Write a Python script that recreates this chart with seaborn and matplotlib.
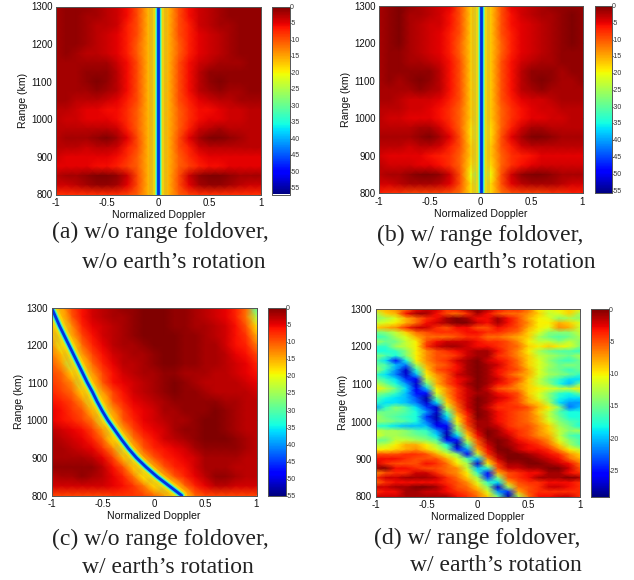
import numpy as np
import matplotlib
matplotlib.use('Agg')
import matplotlib.pyplot as plt
import seaborn as sns

sns.set_theme(style="white")
plt.rcParams['font.family'] = ['Liberation Sans', 'DejaVu Sans']
plt.rcParams['axes.unicode_minus'] = False

W, H = 634, 580

doppler_ticks = [-1, -0.5, 0, 0.5, 1]
range_ticks = [800, 900, 1000, 1100, 1200, 1300]

# dB below peak, top row = 1300 km, columns -1 .. 1 in steps of 0.1
panel_a_db = [
    [2, 1, 1, 1, 2, 3, 4, 6, 10, 16, 26, 16, 10, 6, 4, 3, 2, 1, 1, 1, 1],
    [2, 1, 1, 2, 2, 3, 4, 6, 10, 16, 26, 16, 10, 6, 4, 3, 2, 1, 1, 1, 1],
    [2, 1, 1, 2, 3, 3, 4, 7, 10, 16, 26, 16, 10, 7, 4, 3, 2, 2, 1, 1, 1],
    [2, 1, 1, 2, 3, 4, 5, 7, 10, 16, 26, 16, 10, 7, 5, 4, 3, 2, 1, 1, 1],
    [2, 1, 1, 2, 3, 4, 5, 7, 11, 16, 26, 16, 11, 7, 5, 4, 3, 2, 1, 1, 1],
    [2, 1, 2, 3, 3, 4, 5, 7, 11, 16, 26, 16, 11, 7, 5, 4, 3, 2, 1, 1, 1],
    [2, 2, 2, 2, 2, 2, 4, 6, 10, 16, 26, 16, 10, 6, 4, 3, 2, 2, 2, 1, 1],
    [2, 2, 2, 1, 1, 1, 3, 6, 10, 16, 26, 16, 10, 6, 3, 1, 1, 1, 1, 1, 1],
    [2, 2, 2, 1, 0, 1, 3, 6, 10, 16, 26, 16, 10, 6, 3, 1, 0, 1, 1, 1, 1],
    [2, 2, 2, 2, 1, 2, 3, 6, 10, 16, 26, 16, 10, 6, 3, 2, 1, 2, 2, 1, 1],
    [2, 2, 3, 3, 3, 4, 5, 7, 10, 16, 26, 16, 10, 7, 5, 4, 3, 3, 2, 2, 2],
    [3, 3, 4, 5, 5, 6, 6, 8, 11, 16, 26, 16, 11, 8, 6, 6, 5, 4, 4, 3, 3],
    [3, 4, 4, 5, 5, 5, 6, 8, 11, 16, 26, 16, 11, 8, 6, 5, 5, 4, 4, 3, 3],
    [3, 3, 3, 3, 3, 3, 4, 7, 11, 16, 26, 16, 11, 7, 4, 3, 2, 3, 3, 3, 3],
    [3, 2, 2, 2, 1, 0, 2, 5, 10, 16, 26, 16, 10, 5, 2, 0, 0, 1, 2, 3, 3],
    [3, 3, 3, 4, 3, 3, 4, 7, 10, 16, 26, 16, 10, 7, 4, 3, 3, 3, 3, 3, 3],
    [4, 5, 5, 5, 5, 5, 6, 8, 11, 16, 26, 16, 11, 8, 6, 5, 5, 5, 5, 5, 5],
    [5, 5, 5, 5, 6, 6, 7, 9, 11, 16, 26, 16, 11, 9, 7, 6, 6, 5, 5, 5, 5],
    [3, 2, 2, 1, 0, 0, 1, 4, 10, 16, 26, 16, 10, 4, 1, 0, 0, 1, 2, 2, 2],
    [4, 4, 3, 2, 1, 1, 2, 5, 10, 16, 26, 16, 10, 5, 2, 1, 1, 2, 3, 4, 4],
    [8, 8, 8, 8, 8, 8, 8, 9, 11, 16, 26, 16, 11, 9, 8, 8, 8, 8, 8, 8, 8],
]

panel_b_db = [
    [2, 1, 0, 1, 2, 3, 4, 5, 10, 17, 27, 17, 10, 5, 4, 3, 2, 1, 1, 1, 1],
    [2, 1, 0, 2, 2, 3, 4, 6, 10, 17, 27, 17, 10, 6, 4, 3, 2, 2, 1, 0, 1],
    [2, 1, 0, 2, 3, 4, 4, 6, 10, 17, 27, 17, 10, 6, 5, 4, 3, 2, 1, 0, 1],
    [2, 1, 0, 2, 3, 4, 5, 7, 10, 17, 27, 17, 10, 7, 5, 4, 3, 2, 1, 0, 1],
    [2, 1, 0, 2, 3, 4, 5, 7, 11, 17, 27, 17, 11, 7, 5, 4, 3, 2, 1, 0, 1],
    [2, 1, 1, 2, 3, 4, 5, 7, 11, 17, 27, 17, 11, 7, 5, 4, 3, 2, 1, 1, 1],
    [2, 1, 1, 2, 2, 3, 4, 6, 10, 17, 27, 17, 10, 6, 4, 3, 2, 2, 1, 1, 1],
    [2, 1, 1, 1, 1, 1, 3, 6, 10, 17, 27, 17, 10, 6, 3, 1, 1, 1, 2, 1, 1],
    [2, 1, 2, 1, 0, 1, 3, 6, 10, 17, 27, 17, 10, 6, 3, 1, 0, 1, 2, 2, 1],
    [2, 2, 2, 2, 1, 2, 3, 6, 10, 17, 27, 17, 10, 6, 3, 2, 1, 2, 2, 2, 2],
    [2, 2, 3, 4, 4, 4, 5, 7, 10, 17, 27, 17, 10, 7, 5, 4, 4, 3, 2, 2, 2],
    [3, 3, 3, 4, 4, 5, 6, 8, 11, 17, 27, 17, 11, 8, 6, 5, 4, 4, 3, 3, 3],
    [3, 4, 4, 5, 5, 5, 6, 8, 11, 17, 28, 17, 11, 8, 6, 5, 5, 4, 4, 3, 3],
    [3, 3, 3, 3, 2, 2, 4, 7, 11, 18, 29, 18, 11, 7, 4, 2, 2, 3, 3, 3, 3],
    [2, 2, 2, 2, 1, 0, 2, 5, 10, 18, 29, 18, 10, 5, 2, 0, 0, 1, 2, 2, 2],
    [3, 3, 3, 4, 3, 3, 4, 7, 10, 17, 27, 17, 10, 7, 4, 3, 3, 3, 3, 3, 3],
    [4, 5, 5, 5, 5, 6, 7, 8, 11, 17, 27, 17, 11, 8, 7, 6, 5, 5, 5, 5, 5],
    [3, 4, 4, 4, 5, 5, 6, 8, 11, 18, 28, 18, 11, 8, 6, 5, 4, 4, 4, 4, 4],
    [3, 2, 2, 1, 0, 0, 1, 4, 10, 20, 34, 20, 10, 4, 1, 0, 0, 1, 2, 2, 2],
    [4, 4, 3, 2, 2, 2, 3, 5, 10, 18, 29, 18, 10, 5, 3, 2, 2, 2, 3, 4, 4],
    [7, 8, 8, 9, 9, 9, 9, 10, 12, 18, 27, 18, 12, 10, 9, 9, 9, 8, 8, 7, 7],
]

panel_c_db = [
    [26, 15, 9, 6, 4, 3, 2, 1, 1, 0, 0, 0, 1, 1, 2, 3, 4, 5, 7, 11, 30],
    [24, 17, 10, 6, 4, 3, 2, 2, 1, 0, 0, 0, 1, 1, 2, 3, 4, 5, 7, 12, 24],
    [18, 22, 13, 7, 5, 4, 3, 2, 1, 0, 0, 0, 1, 1, 2, 2, 3, 4, 6, 10, 18],
    [15, 24, 15, 9, 6, 4, 3, 2, 1, 0, 0, 0, 0, 1, 1, 2, 3, 4, 6, 8, 15],
    [13, 21, 20, 11, 7, 5, 3, 2, 2, 1, 0, 0, 0, 1, 1, 2, 2, 4, 6, 7, 12],
    [12, 16, 24, 14, 9, 6, 4, 3, 2, 2, 1, 0, 0, 1, 1, 2, 2, 3, 5, 6, 9],
    [10, 14, 24, 18, 11, 7, 5, 3, 3, 2, 1, 0, 0, 1, 1, 2, 2, 3, 4, 5, 7],
    [9, 11, 17, 24, 14, 9, 6, 4, 3, 2, 2, 1, 1, 2, 2, 2, 3, 3, 4, 5, 6],
    [8, 10, 13, 23, 17, 10, 6, 5, 4, 3, 2, 1, 0, 1, 2, 3, 3, 3, 3, 4, 5],
    [7, 9, 11, 17, 24, 14, 9, 6, 4, 3, 2, 1, 0, 1, 1, 2, 3, 3, 3, 3, 4],
    [6, 7, 9, 13, 22, 18, 10, 7, 5, 4, 3, 2, 1, 1, 1, 1, 1, 2, 2, 3, 3],
    [5, 6, 8, 10, 16, 24, 14, 9, 6, 5, 4, 2, 2, 1, 1, 1, 0, 1, 2, 3, 3],
    [5, 6, 7, 9, 12, 22, 17, 10, 7, 5, 4, 3, 2, 2, 1, 0, 0, 1, 2, 3, 3],
    [3, 4, 5, 6, 9, 14, 24, 14, 9, 6, 5, 4, 2, 1, 1, 0, 0, 1, 2, 3, 3],
    [2, 3, 4, 5, 7, 11, 19, 22, 12, 8, 6, 4, 3, 2, 1, 0, 0, 0, 1, 2, 3],
    [2, 2, 3, 4, 5, 8, 13, 24, 16, 10, 7, 6, 5, 4, 2, 1, 1, 1, 1, 2, 3],
    [2, 2, 2, 2, 3, 5, 9, 16, 24, 14, 10, 7, 6, 5, 4, 2, 2, 2, 2, 3, 3],
    [1, 1, 1, 1, 1, 3, 6, 10, 17, 24, 15, 10, 7, 6, 4, 2, 2, 2, 3, 3, 3],
    [3, 2, 2, 1, 2, 3, 5, 7, 12, 19, 24, 15, 10, 7, 5, 3, 1, 1, 2, 3, 3],
    [4, 4, 4, 4, 4, 4, 5, 6, 8, 12, 18, 24, 18, 11, 7, 5, 3, 3, 4, 4, 4],
    [9, 9, 9, 9, 9, 9, 8, 8, 8, 9, 11, 14, 21, 18, 11, 9, 9, 9, 9, 9, 9],
]

panel_d_db = [
    [9, 8, 7, 6, 3, 2, 2, 4, 3, 1, 0, 1, 3, 4, 4, 6, 10, 11, 10, 9, 10],
    [13, 9, 8, 3, 1, 1, 3, 5, 6, 4, 1, 3, 5, 6, 6, 7, 9, 12, 11, 9, 13],
    [14, 13, 11, 8, 6, 4, 3, 1, 0, 1, 3, 3, 1, 3, 5, 8, 10, 11, 14, 13, 14],
    [12, 11, 10, 8, 6, 3, 2, 1, 0, 0, 2, 3, 1, 3, 5, 7, 10, 10, 8, 9, 11],
    [9, 8, 7, 4, 2, 2, 4, 5, 3, 3, 5, 5, 3, 4, 5, 8, 10, 11, 7, 8, 12],
    [15, 14, 12, 9, 6, 5, 4, 4, 4, 3, 3, 4, 4, 5, 6, 9, 11, 14, 14, 14, 12],
    [17, 16, 13, 11, 8, 6, 6, 6, 5, 4, 4, 6, 6, 7, 8, 9, 13, 15, 16, 15, 13],
    [13, 15, 15, 12, 10, 5, 3, 2, 2, 2, 3, 4, 4, 5, 7, 10, 12, 12, 14, 12, 14],
    [17, 17, 13, 12, 10, 4, 2, 1, 1, 2, 3, 3, 4, 5, 6, 9, 10, 9, 10, 11, 14],
    [18, 18, 17, 14, 10, 7, 5, 4, 3, 2, 1, 1, 3, 5, 7, 10, 13, 15, 16, 16, 17],
    [14, 16, 18, 14, 10, 7, 5, 5, 4, 2, 1, 1, 4, 5, 7, 9, 12, 13, 14, 15, 13],
    [16, 19, 25, 18, 10, 7, 5, 4, 2, 1, 0, 2, 3, 4, 6, 9, 11, 14, 16, 17, 15],
    [15, 16, 20, 22, 13, 8, 6, 5, 3, 1, 0, 1, 2, 4, 6, 9, 11, 13, 15, 14, 15],
    [13, 17, 21, 27, 17, 9, 5, 4, 3, 1, 0, 1, 3, 4, 5, 8, 11, 14, 15, 17, 15],
    [17, 19, 22, 27, 20, 10, 7, 5, 2, 1, 0, 1, 3, 5, 7, 8, 11, 13, 14, 15, 17],
    [15, 17, 19, 24, 26, 12, 8, 5, 3, 2, 0, 1, 2, 4, 5, 9, 12, 15, 17, 19, 19],
    [12, 15, 18, 21, 27, 15, 8, 5, 3, 1, 0, 1, 3, 4, 7, 9, 12, 14, 18, 20, 15],
    [10, 12, 15, 19, 26, 20, 10, 7, 4, 2, 0, 2, 5, 6, 7, 9, 10, 11, 12, 12, 10],
    [14, 15, 17, 20, 25, 25, 11, 7, 4, 2, 1, 1, 3, 4, 5, 9, 11, 14, 17, 18, 15],
    [16, 18, 19, 20, 23, 28, 15, 8, 4, 2, 0, 1, 2, 3, 5, 8, 11, 14, 18, 19, 19],
    [17, 19, 19, 20, 22, 27, 19, 9, 5, 2, 0, 1, 3, 4, 5, 8, 9, 13, 19, 21, 21],
    [21, 17, 14, 16, 19, 24, 27, 12, 6, 2, 0, 2, 4, 4, 4, 5, 8, 10, 14, 22, 20],
    [15, 15, 15, 16, 18, 21, 27, 16, 7, 3, 0, 1, 3, 4, 5, 6, 9, 12, 16, 18, 18],
    [13, 15, 16, 17, 18, 24, 28, 19, 9, 4, 0, 1, 3, 4, 5, 6, 8, 12, 15, 18, 18],
    [14, 14, 15, 16, 18, 22, 27, 22, 10, 4, 1, 1, 3, 4, 5, 6, 8, 11, 14, 16, 17],
    [17, 18, 19, 20, 20, 20, 26, 26, 13, 5, 1, 1, 2, 4, 5, 5, 7, 9, 13, 15, 18],
    [12, 13, 13, 14, 16, 17, 21, 27, 15, 7, 2, 0, 1, 3, 4, 5, 7, 9, 12, 14, 13],
    [11, 13, 13, 14, 15, 16, 19, 28, 19, 9, 3, 0, 1, 2, 4, 5, 7, 8, 12, 16, 17],
    [15, 15, 12, 12, 13, 14, 16, 26, 25, 12, 5, 1, 0, 1, 3, 4, 5, 7, 11, 14, 16],
    [13, 12, 10, 8, 8, 10, 13, 18, 28, 16, 6, 2, 0, 1, 2, 3, 4, 6, 9, 13, 16],
    [10, 10, 9, 8, 7, 9, 11, 15, 25, 21, 8, 3, 0, 0, 2, 3, 3, 4, 7, 10, 12],
    [5, 5, 5, 4, 4, 5, 8, 11, 14, 26, 12, 4, 1, 0, 0, 1, 2, 3, 4, 7, 9],
    [3, 3, 3, 4, 5, 5, 5, 8, 11, 16, 20, 7, 2, 0, 0, 0, 1, 2, 3, 6, 8],
    [2, 4, 5, 5, 5, 3, 4, 6, 10, 13, 27, 10, 4, 1, 1, 0, 0, 1, 2, 3, 6],
    [1, 0, 3, 3, 4, 5, 5, 6, 7, 12, 20, 17, 5, 2, 2, 1, 1, 0, 0, 2, 5],
    [7, 5, 4, 4, 2, 2, 4, 6, 7, 10, 17, 25, 8, 5, 4, 3, 3, 1, 1, 3, 4],
    [4, 2, 2, 1, 1, 1, 2, 4, 6, 9, 13, 24, 14, 5, 4, 3, 1, 1, 1, 0, 1],
    [6, 4, 3, 3, 3, 3, 3, 4, 5, 7, 11, 17, 19, 8, 5, 4, 4, 3, 3, 3, 4],
    [2, 2, 1, 1, 0, 0, 1, 3, 5, 6, 9, 14, 27, 13, 6, 5, 4, 2, 2, 3, 4],
    [4, 3, 3, 1, 1, 2, 2, 3, 4, 5, 7, 11, 21, 24, 8, 5, 4, 4, 4, 4, 4],
    [2, 2, 2, 1, 1, 1, 1, 1, 3, 4, 6, 9, 15, 28, 13, 6, 3, 3, 2, 2, 4],
]

# clutter notch position
notch_straight_range = [800, 1300]
notch_straight_doppler = [0, 0]
notch_curved_range = [1300, 1275, 1250, 1225, 1200, 1175, 1150, 1125, 1100, 1075, 1050,
                      1025, 1000, 975, 950, 925, 900, 875, 850, 825, 800]
notch_curved_doppler = [-1, -0.96, -0.92, -0.875, -0.83, -0.785, -0.74, -0.695, -0.65, -0.6, -0.555,
                        -0.505, -0.45, -0.385, -0.32, -0.25, -0.17, -0.075, 0.03, 0.15, 0.27]

captions = [
    ("(a) w/o range foldover,", "w/o earth\u2019s rotation"),
    ("(b) w/ range foldover,", "w/o earth\u2019s rotation"),
    ("(c) w/o range foldover,", "w/ earth\u2019s rotation"),
    ("(d) w/ range foldover,", "w/ earth\u2019s rotation"),
]

fig = plt.figure(figsize=(W / 100, H / 100), dpi=100, facecolor='white')


def px_axes(x0, y0, x1, y1):
    return fig.add_axes([x0 / W, 1 - y1 / H, (x1 - x0) / W, (y1 - y0) / H])


def draw_panel(db, box, cbar_box, vmin, cbar_ticks, notch=None):
    ax = px_axes(*box)
    cax = px_axes(*cbar_box)
    values = -np.array(db, dtype=float)
    nrows, ncols = values.shape
    sns.heatmap(values, ax=ax, cbar_ax=cax, cmap='jet', vmin=vmin, vmax=0,
                shading='gouraud', xticklabels=False, yticklabels=False)

    to_col = lambda d: (np.asarray(d) + 1) / 2 * (ncols - 1)
    to_row = lambda r: (1300 - np.asarray(r)) / 500 * (nrows - 1)

    if notch is not None:
        rng, dop = notch
        layers = [('#ff9a00', 13, 0.35), ('#ffdc00', 8, 0.6), ('#8cff70', 5, 0.9),
                  ('#19d8f0', 3.4, 0.95), ('#0030e0', 2, 1)]
        for color, width, alpha in layers:
            sns.lineplot(x=to_col(dop), y=to_row(rng), ax=ax, color=color, linewidth=width,
                         sort=False, estimator=None, errorbar=None, alpha=alpha)

    ax.set_xlim(0, ncols - 1)
    ax.set_ylim(nrows - 1, 0)
    ax.set_xticks(to_col(doppler_ticks))
    ax.set_xticklabels([f'{d:g}' for d in doppler_ticks], fontsize=7)
    ax.set_yticks(to_row(range_ticks))
    ax.set_yticklabels([str(r) for r in range_ticks], fontsize=7, rotation=0)
    ax.tick_params(direction='in', length=2.5, width=0.6, color='#111111', pad=2.5, labelcolor='#111111',
                   left=True, bottom=True, top=True, right=True)
    ax.set_xlabel('Normalized Doppler', fontsize=7.6, color='#111111', labelpad=1.5, visible=True)
    ax.set_ylabel('Range (km)', fontsize=7.6, color='#111111', labelpad=2, visible=True)
    for s in ax.spines.values():
        s.set_visible(True)
        s.set_linewidth(0.7)
        s.set_color('#555555')

    cax.set_yticks(cbar_ticks)
    cax.set_yticklabels([str(t) for t in cbar_ticks], fontsize=5, color='#333333')
    cax.tick_params(direction='in', length=1.5, width=0.4, pad=-0.5, right=True, left=False)
    for s in cax.spines.values():
        s.set_visible(True)
        s.set_linewidth(0.6)
        s.set_color('#555555')


ticks_55 = list(range(0, -60, -5))
ticks_25 = list(range(0, -30, -5))

draw_panel(panel_a_db, (56, 6.5, 260.5, 194.5), (272, 6.5, 290, 194.5), -57, ticks_55,
           (notch_straight_range, notch_straight_doppler))
draw_panel(panel_b_db, (379, 5.5, 582.5, 193.5), (594.5, 5.5, 612, 193.5), -56, ticks_55,
           (notch_straight_range, notch_straight_doppler))
draw_panel(panel_c_db, (51.5, 307.5, 256.5, 495.5), (268, 307.5, 286, 495.5), -55, ticks_55,
           (notch_curved_range, notch_curved_doppler))
draw_panel(panel_d_db, (375.5, 309, 579.5, 496.5), (591, 309, 609, 496.5), -29, ticks_25)

caption_pos = [((52, 238), (82, 268)), ((377, 241), (412, 268)),
               ((52, 545), (82, 573)), ((374, 544), (410, 571))]
for (line1, line2), (p1, p2) in zip(captions, caption_pos):
    for text, (x, y) in [(line1, p1), (line2, p2)]:
        fig.text(x / W, 1 - y / H, text, fontsize=17, family='Liberation Serif',
                 color='#222222', ha='left', va='baseline')

plt.savefig('out.png', dpi=100)
